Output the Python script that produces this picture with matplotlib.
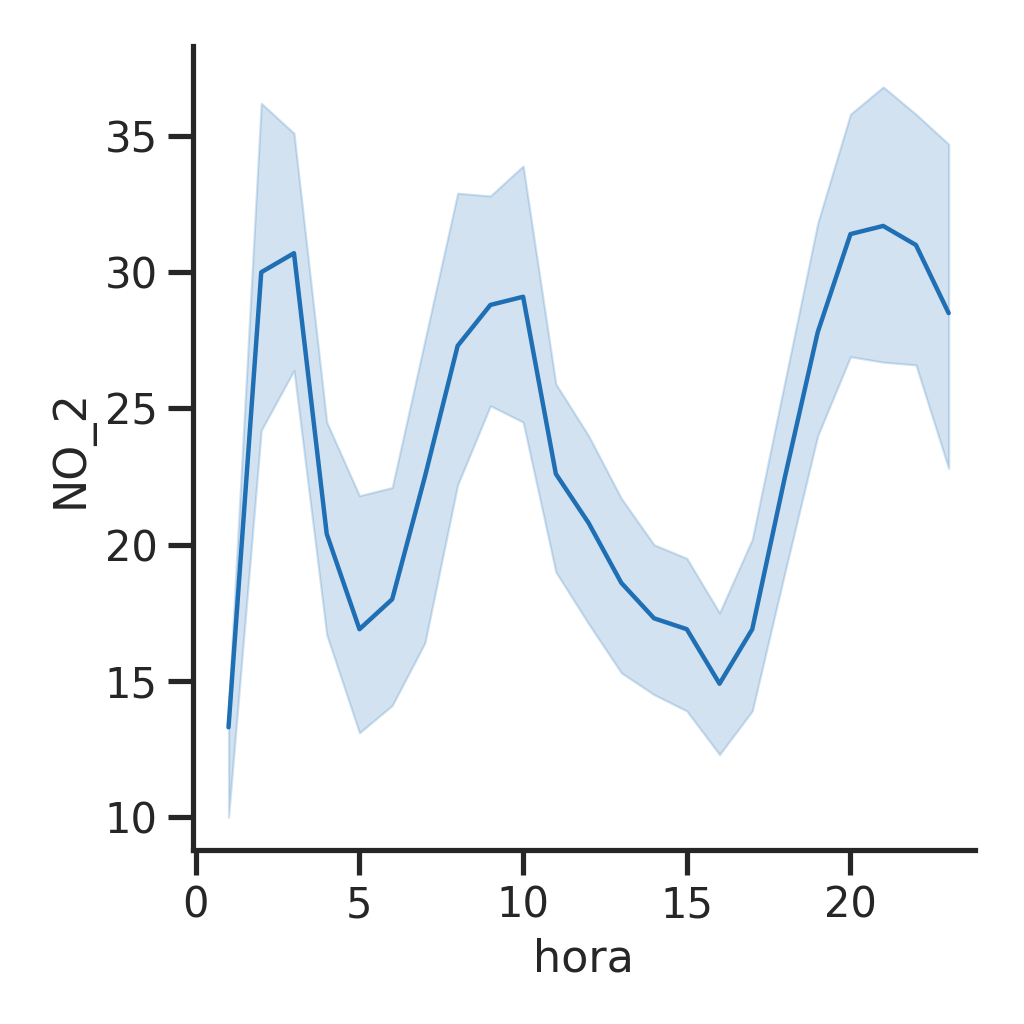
import numpy as np
import matplotlib
matplotlib.use("Agg")
import matplotlib.pyplot as plt
import seaborn as sns

hora = list(range(1, 24))
no2_mean = [13.3, 30.0, 30.7, 20.4, 16.9, 18.0, 22.5, 27.3, 28.8, 29.1, 22.6, 20.8,
            18.6, 17.3, 16.9, 14.9, 16.9, 22.5, 27.8, 31.4, 31.7, 31.0, 28.5]
no2_upper = [14.0, 36.2, 35.1, 24.5, 21.8, 22.1, 27.5, 32.9, 32.8, 33.9, 25.9, 24.0,
             21.7, 20.0, 19.5, 17.5, 20.2, 26.0, 31.8, 35.8, 36.8, 35.8, 34.7]
no2_lower = [10.0, 24.2, 26.4, 16.7, 13.1, 14.1, 16.4, 22.2, 25.1, 24.5, 19.0, 17.1,
             15.3, 14.5, 13.9, 12.3, 13.9, 19.0, 24.0, 26.9, 26.7, 26.6, 22.8]

sns.set_theme(style="ticks", context="talk")
fig, ax = plt.subplots(figsize=(5.12, 5.12), dpi=200)
color = "#1f6fb4"
ax.fill_between(hora, no2_lower, no2_upper, color=color, alpha=0.2, linewidth=0.8)
ax.plot(hora, no2_mean, color=color, linewidth=1.6)
ax.set_xlim(-0.1, 23.8)
ax.set_ylim(8.8, 38.3)
ax.set_yticks([10, 15, 20, 25, 30, 35])
ax.set_xticks([0, 5, 10, 15, 20])
ax.tick_params(labelsize=15)
ax.set_xlabel("hora", fontsize=16)
ax.set_ylabel("NO_2", fontsize=16)
sns.despine(ax=ax)
fig.subplots_adjust(left=0.188, right=0.952, bottom=0.17, top=0.955)
fig.savefig("out.png", dpi=200)
